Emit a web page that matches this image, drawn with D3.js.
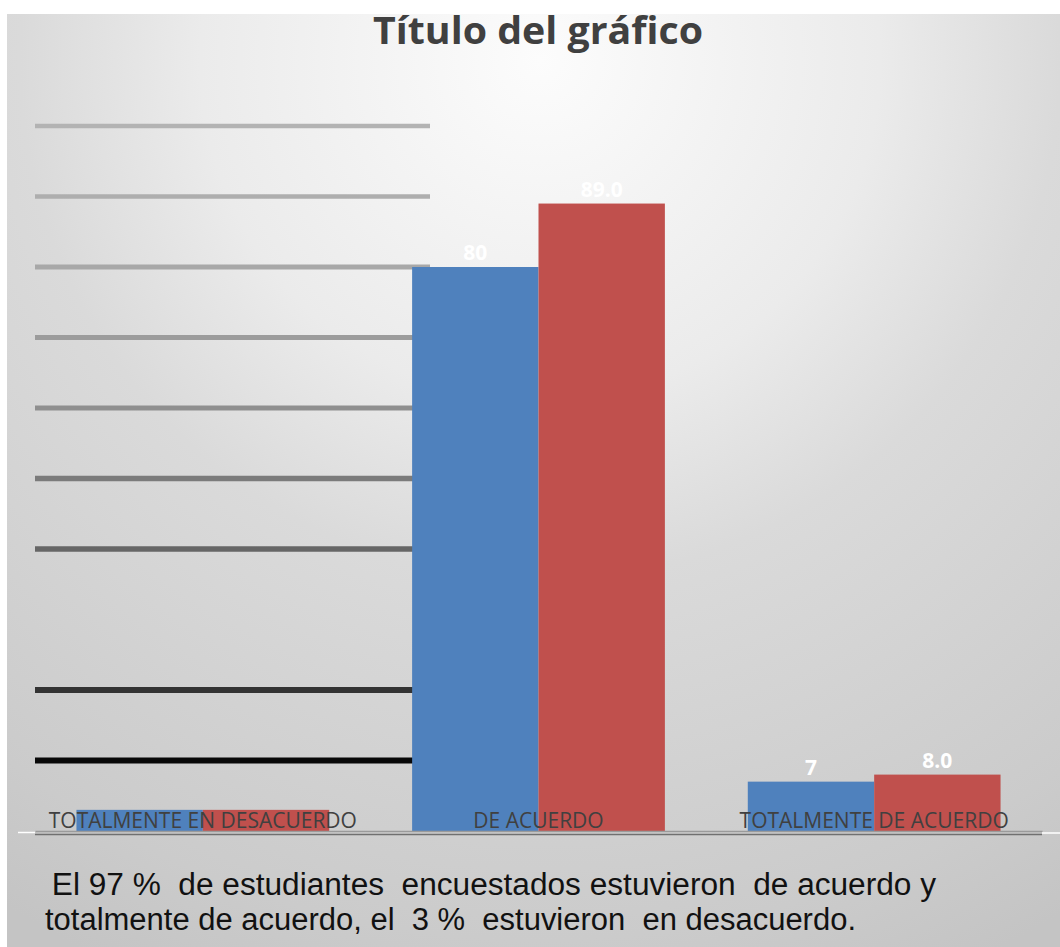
<!DOCTYPE html>
<html>
<head>
<meta charset="utf-8">
<script src="https://cdn.jsdelivr.net/npm/d3@7"></script>
<style>
  html, body { margin: 0; padding: 0; background: #ffffff; }
  svg { display: block; }
  text { white-space: pre; }
</style>
</head>
<body>
<div id="chart"></div>
<script>
// ---- data ----
const categories = ["TOTALMENTE EN DESACUERDO", "DE ACUERDO", "TOTALMENTE DE ACUERDO"];
const seriesNames = ["Serie 1", "Serie 2"];
const series1 = [3, 80, 7];
const series2 = [3, 89, 8];
const series1Labels = ["", "80", "7"];
const series2Labels = ["", "89.0", "8.0"];
const gridValues = [10, 20, 40, 50, 60, 70, 80, 90, 100];
const titleText = "Título del gráfico";
const noteLines = [
  " El 97 %  de estudiantes  encuestados estuvieron  de acuerdo y",
  "totalmente de acuerdo, el  3 %  estuvieron  en desacuerdo."
];

// ---- layout ----
const W = 1060, H = 947;
const plot = { left: 35, right: 1042, top: 126, bottom: 831 };
const colors = ["#4f81bd", "#c0504d"];

const svg = d3.select("#chart").append("svg").attr("width", W).attr("height", H);

const defs = svg.append("defs");
const grad = defs.append("radialGradient").attr("id", "bg")
  .attr("gradientUnits", "userSpaceOnUse")
  .attr("cx", 540).attr("cy", 60).attr("r", 1000).attr("fx", 540).attr("fy", 60);
[[0, "#fcfcfc"], [0.34, "#ebebeb"], [0.52, "#dadada"], [0.88, "#cbcbcb"], [1, "#c4c4c4"]]
  .forEach(([o, c]) => grad.append("stop").attr("offset", o).attr("stop-color", c));

svg.append("rect").attr("x", 7).attr("y", 14).attr("width", W - 7).attr("height", H - 14)
  .attr("fill", "url(#bg)");

// scales
const x0 = d3.scaleBand().domain(categories).range([plot.left, plot.right]).paddingInner(0.247).paddingOuter(0.1235);
const x1 = d3.scaleBand().domain(seriesNames).range([0, x0.bandwidth()]);
const y = d3.scaleLinear().domain([0, 100]).range([plot.bottom, plot.top]);
const gridColor = d3.scaleLinear().domain([10, 20, 40, 60, 80, 100])
  .range(["#080808", "#333333", "#666666", "#8f8f8f", "#a8a8a8", "#b3b3b3"]);
const gridWidth = d3.scaleLinear().domain([10, 100]).range([6, 4.5]);

// gridlines
svg.append("g").selectAll("line").data(gridValues).join("line")
  .attr("x1", plot.left).attr("x2", 430)
  .attr("y1", d => y(d)).attr("y2", d => y(d))
  .attr("stroke", d => gridColor(d))
  .attr("stroke-width", d => gridWidth(d));

// bars
const rows = categories.map((c, i) => ({
  cat: c,
  vals: [
    { s: seriesNames[0], v: series1[i], label: series1Labels[i], color: colors[0] },
    { s: seriesNames[1], v: series2[i], label: series2Labels[i], color: colors[1] }
  ]
}));

const groups = svg.append("g").selectAll("g").data(rows).join("g")
  .attr("transform", d => `translate(${x0(d.cat)},0)`);

groups.selectAll("rect").data(d => d.vals).join("rect")
  .attr("x", d => x1(d.s))
  .attr("y", d => y(d.v))
  .attr("width", x1.bandwidth())
  .attr("height", d => y(0) - y(d.v))
  .attr("fill", d => d.color);

groups.selectAll("text.val").data(d => d.vals).join("text")
  .attr("class", "val")
  .attr("x", d => x1(d.s) + x1.bandwidth() / 2)
  .attr("y", d => y(d.v) - 7)
  .attr("text-anchor", "middle")
  .attr("font-family", "'Open Sans', sans-serif")
  .attr("font-weight", "bold")
  .attr("font-size", 21)
  .attr("fill", "#ffffff")
  .text(d => d.label);

// x axis
const axisG = svg.append("g").attr("transform", `translate(0,${plot.bottom})`)
  .call(d3.axisBottom(x0).tickSize(0).tickSizeOuter(0));
axisG.select(".domain").attr("stroke", "#9a9a9a").attr("stroke-width", 1.5);
axisG.selectAll("text")
  .attr("dy", null).attr("y", -3)
  .attr("font-family", "'Open Sans', sans-serif")
  .attr("font-size", 21)
  .attr("fill", "#404040");
svg.append("line").attr("x1", plot.left).attr("x2", plot.right)
  .attr("y1", plot.bottom + 3.5).attr("y2", plot.bottom + 3.5)
  .attr("stroke", "#707070").attr("stroke-width", 1.5);
svg.append("line").attr("x1", 18).attr("x2", plot.left)
  .attr("y1", plot.bottom + 1.5).attr("y2", plot.bottom + 1.5)
  .attr("stroke", "#ffffff").attr("stroke-width", 1.5);
svg.append("line").attr("x1", plot.right).attr("x2", W)
  .attr("y1", plot.bottom + 2).attr("y2", plot.bottom + 2)
  .attr("stroke", "#ffffff").attr("stroke-width", 1.5);

// title
svg.append("text")
  .attr("x", 538).attr("y", 44)
  .attr("text-anchor", "middle")
  .attr("font-family", "'Open Sans', sans-serif")
  .attr("font-weight", "bold")
  .attr("font-size", 38)
  .attr("textLength", 330).attr("lengthAdjust", "spacingAndGlyphs")
  .attr("fill", "#404040")
  .text(titleText);

// note
const noteX = [43, 45], noteY = [895, 930], noteLen = [893, 811];
svg.append("g").selectAll("text").data(noteLines).join("text")
  .attr("x", (d, i) => noteX[i]).attr("y", (d, i) => noteY[i])
  .attr("font-family", "'Liberation Sans', Arial, sans-serif")
  .attr("font-size", 31)
  .attr("textLength", (d, i) => noteLen[i]).attr("lengthAdjust", "spacingAndGlyphs")
  .attr("fill", "#111111")
  .text(d => d);
</script>
</body>
</html>
